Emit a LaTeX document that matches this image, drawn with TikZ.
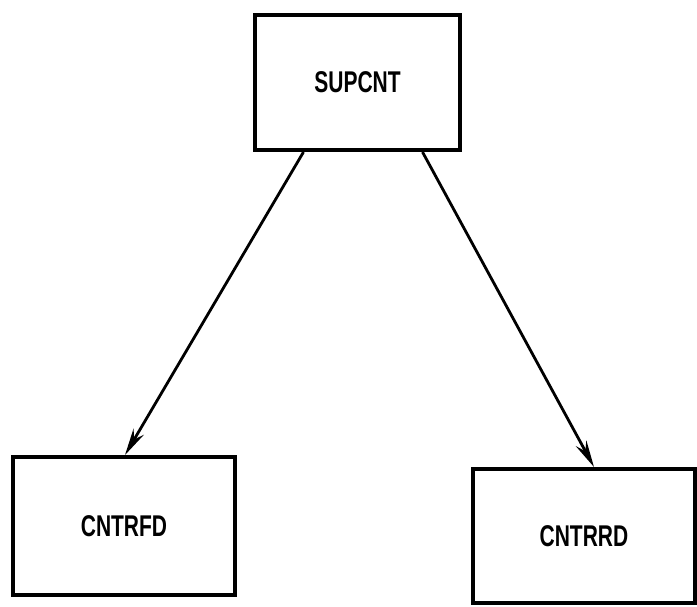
\documentclass[tikz,border=0pt]{standalone}
\usepackage{fontspec}
\setmainfont{Liberation Sans}
\usetikzlibrary{arrows.meta,calc}
\newcommand{\modname}[1]{\scalebox{0.70}[1]{\fontsize{30}{30}\selectfont\bfseries #1}}
\begin{document}
\begin{tikzpicture}[x=1pt,y=-1pt,
  module/.style={draw=black, line width=4pt, rectangle, inner sep=0pt},
  call/.style={draw=black, line width=2.8pt,
    -{Stealth[length=27pt,width=12pt,inset=9pt]}}]
\useasboundingbox (0,0) rectangle (697,606);
\fill[white] (0,0) rectangle (697,606);

% program modules
\node[module, minimum width=205pt, minimum height=135pt] (sup) at (357.5,82.5) {\modname{SUPCNT}};
\node[module, minimum width=222pt, minimum height=138pt] (fd)  at (124,526)   {\modname{CNTRFD}};
\node[module, minimum width=222pt, minimum height=134pt] (rd)  at (584,536)   {\modname{CNTRRD}};

% calls from the supervisor
\draw[call] ($(sup.south)+(-54,0)$) -- ($(fd.north)+(1,0)$);
\draw[call] ($(sup.south)+(65,0)$) -- ($(rd.north)+(10,0)$);
\end{tikzpicture}
\end{document}
